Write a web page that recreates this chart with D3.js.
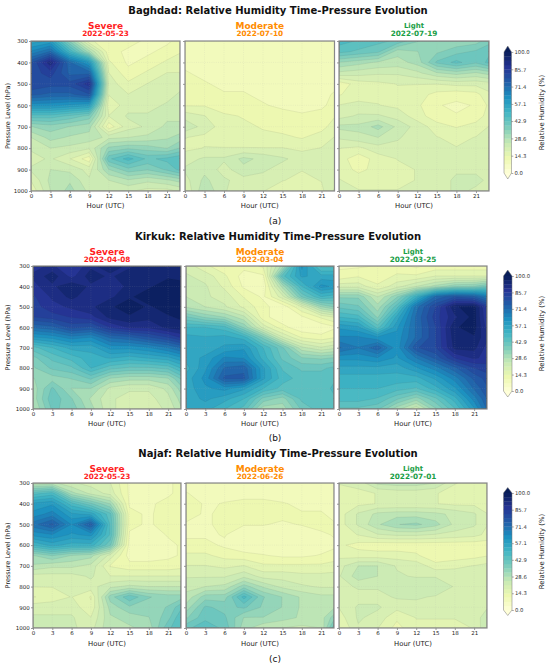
<!DOCTYPE html>
<html>
<head>
<meta charset="utf-8">
<script src="https://cdn.jsdelivr.net/npm/d3@7"></script>
<style>
  html, body { margin: 0; padding: 0; background: #fff; }
  svg { display: block; font-family: "DejaVu Sans", sans-serif; }
</style>
</head>
<body>
<div id="chart"></div>
<script>
// Relative humidity time-pressure contour panels (3 cities x 3 events)

const hours = [0, 3, 6, 9, 12, 15, 18, 21, 23];
const pressureLevels = [300, 350, 400, 450, 500, 550, 600, 650, 700, 750, 800, 850, 900, 950, 1000];
const hourTicks = [0, 3, 6, 9, 12, 15, 18, 21];
const pressureTicks = [300, 400, 500, 600, 700, 800, 900, 1000];
const colorbarTicks = [0, 14.3, 28.6, 42.9, 57.1, 71.4, 85.7, 100];

const cities = ['Baghdad', 'Kirkuk', 'Najaf'];
const categories = ['Severe', 'Moderate', 'Light'];
const eventDates = [
  ['2022-05-23', '2022-07-10', '2022-07-19'],
  ['2022-04-08', '2022-03-04', '2022-03-25'],
  ['2022-05-23', '2022-06-26', '2022-07-01']
];
const panelTags = ['(a)', '(b)', '(c)'];

// rows = pressure levels (300 -> 1000), columns = hours
const baghdadSevere = [
  [55, 58, 35, 15, 12, 12, 10, 10, 12],
  [65, 72, 50, 30, 12, 10, 10, 12, 14],
  [78, 92, 72, 60, 15, 10, 12, 15, 16],
  [80, 84, 74, 74, 18, 12, 15, 18, 18],
  [82, 80, 80, 88, 20, 15, 18, 20, 20],
  [76, 74, 74, 78, 18, 18, 18, 20, 22],
  [62, 62, 60, 58, 15, 20, 20, 22, 22],
  [45, 45, 42, 38, 18, 22, 22, 24, 24],
  [32, 34, 32, 30, 12, 20, 22, 26, 26],
  [25, 30, 28, 27, 24, 25, 26, 28, 30],
  [22, 25, 24, 22, 33, 35, 34, 32, 36],
  [20, 22, 18, 12, 42, 48, 42, 44, 46],
  [22, 25, 24, 20, 32, 38, 36, 40, 44],
  [18, 26, 28, 22, 25, 28, 26, 28, 30],
  [15, 25, 30, 24, 22, 22, 20, 20, 22]
];
const baghdadModerate = [
  [10, 10, 10, 10, 9, 8, 8, 8, 9],
  [10, 10, 10, 10, 9, 9, 9, 9, 9],
  [10, 10, 10, 10, 10, 10, 10, 10, 10],
  [11, 10, 10, 10, 10, 10, 10, 10, 10],
  [11, 11, 10, 10, 10, 10, 10, 10, 10],
  [12, 12, 11, 11, 10, 10, 10, 10, 11],
  [14, 14, 12, 12, 11, 10, 10, 10, 12],
  [20, 18, 15, 14, 13, 12, 11, 12, 14],
  [24, 20, 16, 15, 14, 13, 12, 13, 16],
  [18, 17, 16, 16, 15, 15, 14, 16, 18],
  [17, 18, 18, 18, 18, 18, 17, 18, 19],
  [20, 22, 22, 26, 24, 22, 20, 20, 20],
  [22, 24, 20, 24, 22, 20, 18, 19, 20],
  [20, 26, 22, 20, 20, 18, 17, 18, 20],
  [18, 28, 22, 18, 18, 16, 16, 17, 22]
];
const baghdadLight = [
  [48, 46, 44, 42, 36, 34, 33, 34, 38],
  [44, 42, 40, 30, 32, 35, 38, 40, 42],
  [32, 30, 28, 27, 30, 40, 44, 40, 44],
  [24, 23, 22, 22, 24, 28, 30, 28, 30],
  [12, 16, 17, 18, 18, 18, 19, 19, 20],
  [14, 16, 17, 17, 16, 13, 12, 13, 17],
  [18, 19, 18, 17, 15, 11, 10, 11, 15],
  [20, 22, 22, 20, 16, 12, 11, 12, 16],
  [26, 26, 30, 24, 20, 16, 14, 16, 18],
  [22, 24, 25, 22, 19, 18, 17, 18, 20],
  [18, 17, 20, 20, 19, 19, 18, 19, 20],
  [16, 12, 16, 18, 18, 19, 19, 20, 20],
  [17, 13, 16, 17, 18, 20, 21, 21, 21],
  [18, 17, 17, 17, 18, 20, 22, 22, 21],
  [19, 18, 18, 18, 18, 20, 22, 21, 20]
];
const kirkukSevere = [
  [88, 90, 85, 92, 95, 92, 95, 92, 95],
  [90, 95, 88, 95, 92, 96, 95, 96, 96],
  [88, 92, 96, 92, 90, 94, 96, 98, 97],
  [85, 90, 94, 90, 92, 96, 98, 98, 98],
  [84, 88, 90, 92, 96, 98, 96, 98, 98],
  [82, 84, 86, 88, 94, 96, 94, 96, 97],
  [72, 74, 80, 78, 86, 90, 90, 94, 95],
  [60, 62, 66, 64, 72, 74, 78, 82, 86],
  [45, 50, 55, 55, 62, 62, 64, 68, 72],
  [38, 44, 48, 52, 54, 52, 54, 56, 60],
  [35, 40, 42, 50, 44, 42, 42, 44, 50],
  [32, 34, 36, 40, 32, 30, 30, 32, 40],
  [30, 40, 32, 32, 24, 22, 22, 26, 34],
  [30, 42, 36, 28, 22, 20, 20, 24, 30],
  [28, 40, 38, 30, 22, 20, 20, 22, 28]
];
const kirkukModerate = [
  [20, 15, 12, 12, 15, 30, 62, 45, 45],
  [22, 20, 15, 9, 10, 45, 58, 55, 55],
  [22, 22, 17, 10, 8, 30, 50, 62, 60],
  [25, 22, 20, 14, 10, 20, 40, 50, 48],
  [28, 25, 22, 17, 12, 8, 18, 32, 36],
  [40, 35, 32, 26, 12, 8, 10, 15, 18],
  [50, 50, 48, 35, 20, 12, 8, 8, 10],
  [55, 54, 55, 52, 38, 22, 14, 12, 14],
  [55, 55, 58, 60, 50, 40, 26, 22, 24],
  [55, 58, 65, 64, 52, 42, 36, 35, 36],
  [52, 60, 72, 74, 58, 46, 42, 42, 44],
  [55, 62, 76, 76, 58, 48, 45, 45, 46],
  [55, 60, 62, 58, 50, 45, 45, 45, 47],
  [55, 58, 55, 50, 38, 34, 44, 45, 46],
  [55, 55, 50, 45, 30, 30, 40, 45, 46]
];
const kirkukLight = [
  [10, 10, 11, 12, 10, 12, 12, 12, 12],
  [12, 14, 12, 15, 15, 18, 18, 18, 18],
  [20, 20, 15, 20, 25, 30, 35, 36, 40],
  [35, 35, 25, 35, 52, 72, 78, 75, 68],
  [42, 40, 30, 45, 70, 82, 96, 98, 85],
  [50, 48, 35, 55, 72, 84, 92, 98, 86],
  [60, 58, 45, 60, 72, 82, 96, 98, 88],
  [65, 65, 62, 62, 72, 82, 95, 96, 90],
  [72, 68, 74, 62, 78, 82, 94, 94, 88],
  [62, 62, 64, 60, 68, 76, 86, 90, 88],
  [56, 56, 56, 55, 60, 66, 74, 82, 84],
  [52, 52, 52, 52, 52, 58, 66, 76, 80],
  [50, 50, 50, 48, 46, 52, 60, 72, 78],
  [48, 48, 46, 40, 34, 42, 52, 66, 75],
  [42, 42, 40, 30, 22, 35, 46, 60, 72]
];
const najafSevere = [
  [25, 26, 22, 20, 18, 10, 10, 10, 12],
  [45, 48, 30, 24, 20, 10, 9, 10, 12],
  [58, 60, 48, 40, 32, 10, 10, 12, 14],
  [62, 66, 58, 56, 44, 12, 10, 13, 14],
  [70, 76, 64, 76, 46, 12, 10, 13, 14],
  [62, 64, 60, 62, 46, 10, 9, 11, 12],
  [50, 55, 52, 52, 40, 9, 9, 10, 11],
  [32, 36, 32, 30, 20, 9, 9, 10, 11],
  [28, 26, 26, 24, 14, 12, 12, 12, 13],
  [20, 20, 20, 22, 18, 18, 18, 18, 18],
  [18, 18, 18, 20, 24, 26, 25, 25, 25],
  [14, 16, 18, 14, 34, 42, 36, 34, 34],
  [20, 20, 20, 15, 30, 35, 34, 36, 42],
  [22, 22, 22, 18, 28, 30, 32, 38, 46],
  [25, 24, 22, 20, 28, 28, 30, 42, 46]
];
const najafModerate = [
  [9, 9, 9, 9, 9, 9, 9, 9, 9],
  [11, 9, 9, 9, 9, 9, 9, 9, 9],
  [14, 10, 11, 12, 12, 11, 10, 10, 10],
  [13, 10, 12, 12, 12, 12, 11, 11, 10],
  [10, 10, 12, 11, 11, 10, 11, 12, 11],
  [10, 10, 11, 8, 8, 8, 8, 10, 11],
  [12, 12, 10, 8, 8, 8, 8, 9, 10],
  [15, 15, 13, 12, 11, 10, 10, 11, 12],
  [18, 18, 17, 18, 15, 15, 15, 15, 16],
  [21, 21, 21, 24, 20, 20, 19, 19, 19],
  [24, 25, 26, 34, 28, 24, 22, 21, 21],
  [26, 34, 34, 48, 36, 32, 28, 26, 26],
  [30, 40, 38, 40, 35, 32, 28, 27, 28],
  [35, 42, 40, 32, 32, 30, 28, 27, 34],
  [42, 45, 42, 30, 26, 25, 24, 25, 42]
];
const najafLight = [
  [18, 19, 26, 27, 27, 25, 18, 17, 17],
  [17, 17, 18, 19, 19, 18, 17, 16, 16],
  [15, 17, 18, 18, 18, 18, 17, 17, 16],
  [16, 22, 26, 27, 27, 26, 24, 22, 18],
  [16, 22, 28, 32, 33, 30, 24, 22, 18],
  [16, 18, 21, 22, 22, 21, 20, 19, 17],
  [15, 13, 12, 12, 12, 12, 12, 12, 12],
  [17, 16, 16, 16, 15, 11, 12, 13, 14],
  [20, 25, 25, 21, 20, 16, 17, 18, 19],
  [21, 27, 25, 22, 21, 21, 20, 20, 20],
  [20, 22, 22, 22, 25, 25, 21, 20, 20],
  [19, 20, 20, 22, 22, 21, 20, 20, 20],
  [18, 22, 22, 19, 20, 20, 20, 20, 21],
  [16, 22, 20, 15, 18, 18, 18, 19, 24],
  [14, 21, 18, 13, 17, 17, 17, 18, 25]
];

const panelGrids = [
  [baghdadSevere, baghdadModerate, baghdadLight],
  [kirkukSevere, kirkukModerate, kirkukLight],
  [najafSevere, najafModerate, najafLight]
];

// ---- style / layout ----
const W = 550, H = 668;
const nBands = 28;
const levels = d3.range(nBands + 1).map(i => i * 100 / nBands);
const cmap = d3.piecewise(d3.interpolateRgb, [
  '#ffffd9', '#edf8b1', '#c7e9b4', '#7fcdbb', '#41b6c4',
  '#1d91c0', '#225ea8', '#253494', '#081d58'
]);
const catColors = ['#ff1f1f', '#ff8c00', '#1a9e46'];
const catSizes = [9, 9, 7];
const catShift = [0, 0, -1.2];   // "Light" sits a little higher

const rowLayout = [
  { titleY: 13.6, catY: 29.3, dateY: 35.8, top: 41, bottom: 191,
    xs: [[31, 180], [185, 334.5], [339, 489]], tickY: 199, hourY: 208, tagY: 224,
    cb: { x: 504, w: 7.5, top: 52, bot: 173, tip: 6 } },
  { titleY: 239.6, catY: 255.3, dateY: 262, top: 266, bottom: 409,
    xs: [[33, 181], [186, 334], [339, 487]], tickY: 416.5, hourY: 425.5, tagY: 441,
    cb: { x: 503.5, w: 8.5, top: 276, bot: 391, tip: 6 } },
  { titleY: 456.6, catY: 472.3, dateY: 479, top: 483, bottom: 628,
    xs: [[33, 181], [186, 334], [339, 487]], tickY: 636.5, hourY: 645.5, tagY: 662,
    cb: { x: 503.5, w: 8.5, top: 493, bot: 610, tip: 5.5 } }
];

const svg = d3.select('#chart').append('svg')
  .attr('width', W).attr('height', H).attr('viewBox', `0 0 ${W} ${H}`);
const defs = svg.append('defs');

function drawPanel(g, grid, id, x0, x1, top, bottom, showYLabels) {
  const x = d3.scaleLinear([0, 23], [x0, x1]);
  const y = d3.scaleLinear([300, 1000], [top, bottom]);
  // grid index (cell-centred) -> data coordinates
  const gx = d3.scaleLinear(hours.map((_, i) => i + 0.5), hours).clamp(true);
  const gy = d3.scaleLinear(pressureLevels.map((_, i) => i + 0.5), pressureLevels).clamp(true);
  const proj = d3.geoTransform({
    point(px, py) { this.stream.point(x(gx(px)), y(gy(py))); }
  });
  const path = d3.geoPath(proj);

  defs.append('clipPath').attr('id', id)
    .append('rect').attr('x', x0).attr('y', top)
    .attr('width', x1 - x0).attr('height', bottom - top);

  const contours = d3.contours()
    .size([hours.length, pressureLevels.length])
    .thresholds(levels.slice(0, -1))(grid.flat());

  const body = g.append('g').attr('clip-path', `url(#${id})`);
  body.selectAll('path.band').data(contours).join('path')
    .attr('class', 'band')
    .attr('d', path)
    .attr('fill', (d, i) => cmap((i + 0.5) / nBands));
  body.selectAll('path.iso').data(contours.slice(1)).join('path')
    .attr('class', 'iso')
    .attr('d', path)
    .attr('fill', 'none')
    .attr('stroke', '#3a3a3a')
    .attr('stroke-opacity', 0.22)
    .attr('stroke-width', 0.35);

  // faint grid
  body.append('g').selectAll('line.gx').data(hourTicks).join('line')
    .attr('x1', d => x(d)).attr('x2', d => x(d))
    .attr('y1', top).attr('y2', bottom);
  body.append('g').selectAll('line.gy').data(pressureTicks).join('line')
    .attr('x1', x0).attr('x2', x1)
    .attr('y1', d => y(d)).attr('y2', d => y(d));
  body.selectAll('line')
    .attr('stroke', '#b0b0b0').attr('stroke-opacity', 0.35)
    .attr('stroke-width', 0.4).attr('stroke-dasharray', '1,1.2');

  // axes
  const ax = g.append('g').attr('transform', `translate(0,${bottom})`)
    .call(d3.axisBottom(x).tickValues(hourTicks).tickSize(2).tickPadding(1.2));
  const ay = g.append('g').attr('transform', `translate(${x0},0)`)
    .call(d3.axisLeft(y).tickValues(pressureTicks).tickSize(2).tickPadding(1.2)
      .tickFormat(showYLabels ? d3.format('d') : ''));
  [ax, ay].forEach(a => {
    a.select('.domain').remove();
    a.selectAll('.tick line').attr('stroke', '#555').attr('stroke-width', 0.6);
    a.selectAll('.tick text').attr('fill', '#222')
      .style('font-size', '5.5px').style('font-family', '"DejaVu Sans", sans-serif');
  });

  g.append('rect')
    .attr('x', x0).attr('y', top)
    .attr('width', x1 - x0).attr('height', bottom - top)
    .attr('fill', 'none').attr('stroke', '#888').attr('stroke-width', 1.2);
}

function drawColorbar(g, cb) {
  const s = d3.scaleLinear([0, 100], [cb.bot, cb.top]);
  g.selectAll('rect.cb').data(d3.range(nBands)).join('rect')
    .attr('class', 'cb')
    .attr('x', cb.x).attr('width', cb.w)
    .attr('y', i => s(levels[i + 1]))
    .attr('height', i => s(levels[i]) - s(levels[i + 1]) + 0.3)
    .attr('fill', i => cmap((i + 0.5) / nBands));
  g.append('path')
    .attr('d', `M${cb.x},${cb.top}L${cb.x + cb.w / 2},${cb.top - cb.tip}L${cb.x + cb.w},${cb.top}Z`)
    .attr('fill', cmap(1));
  g.append('path')
    .attr('d', `M${cb.x},${cb.bot}L${cb.x + cb.w / 2},${cb.bot + cb.tip}L${cb.x + cb.w},${cb.bot}Z`)
    .attr('fill', cmap(0));
  g.append('path')
    .attr('d', `M${cb.x},${cb.top}L${cb.x + cb.w / 2},${cb.top - cb.tip}L${cb.x + cb.w},${cb.top}` +
      `L${cb.x + cb.w},${cb.bot}L${cb.x + cb.w / 2},${cb.bot + cb.tip}L${cb.x},${cb.bot}Z`)
    .attr('fill', 'none').attr('stroke', '#777').attr('stroke-width', 0.5);

  const axis = g.append('g').attr('transform', `translate(${cb.x + cb.w},0)`)
    .call(d3.axisRight(s).tickValues(colorbarTicks).tickSize(1.8).tickPadding(1.2)
      .tickFormat(d3.format('.1f')));
  axis.select('.domain').remove();
  axis.selectAll('.tick line').attr('stroke', '#555').attr('stroke-width', 0.5);
  axis.selectAll('.tick text').attr('fill', '#333')
    .style('font-size', '5.3px').style('font-family', '"DejaVu Sans", sans-serif');

  g.append('text')
    .attr('transform', `translate(542,${(cb.top + cb.bot) / 2}) rotate(-90)`)
    .attr('text-anchor', 'middle').attr('dominant-baseline', 'central')
    .style('font-size', '6.9px').attr('fill', '#222')
    .text('Relative Humidity (%)');
}

rowLayout.forEach((L, r) => {
  const g = svg.append('g');
  g.append('text')
    .attr('x', 278).attr('y', L.titleY)
    .attr('text-anchor', 'middle')
    .style('font-size', '10px').style('font-weight', 'bold').attr('fill', '#111')
    .text(`${cities[r]}: Relative Humidity Time-Pressure Evolution`);

  L.xs.forEach(([x0, x1], c) => {
    const cx = (x0 + x1) / 2;
    g.append('text')
      .attr('x', cx).attr('y', L.catY + catShift[c]).attr('text-anchor', 'middle')
      .style('font-size', catSizes[c] + 'px').style('font-weight', 'bold')
      .attr('fill', catColors[c]).text(categories[c]);
    g.append('text')
      .attr('x', cx).attr('y', L.dateY).attr('text-anchor', 'middle')
      .style('font-size', '7.3px').style('font-weight', 'bold')
      .attr('fill', catColors[c]).text(eventDates[r][c]);

    drawPanel(g, panelGrids[r][c], `clip-${r}-${c}`, x0, x1, L.top, L.bottom, c === 0);

    g.append('text')
      .attr('x', cx).attr('y', L.hourY).attr('text-anchor', 'middle')
      .style('font-size', '6.9px').attr('fill', '#222').text('Hour (UTC)');
  });

  g.append('text')
    .attr('transform', `translate(8,${(L.top + L.bottom) / 2}) rotate(-90)`)
    .attr('text-anchor', 'middle').attr('dominant-baseline', 'central')
    .style('font-size', '6.5px').attr('fill', '#222')
    .text('Pressure Level (hPa)');

  drawColorbar(g, L.cb);

  g.append('text')
    .attr('x', 275).attr('y', L.tagY).attr('text-anchor', 'middle')
    .style('font-size', '9px').attr('fill', '#111').text(panelTags[r]);
});
</script>
</body>
</html>
